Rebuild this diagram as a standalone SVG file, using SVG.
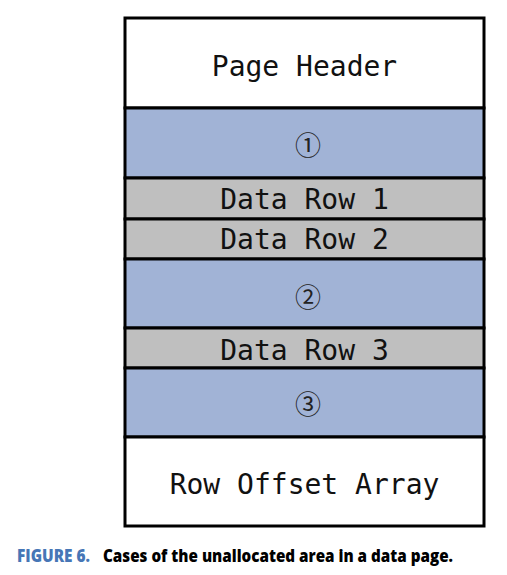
<svg xmlns="http://www.w3.org/2000/svg" width="507" height="575" viewBox="0 0 507 575">
<style>
.band{stroke:#000;stroke-width:3}
.free{fill:#A1B3D6}
.row{fill:#BFBFBF}
.white{fill:#FFFFFF}
.mono{font-family:"DejaVu Sans Mono","Liberation Mono",monospace;font-size:28px;fill:#111;text-anchor:middle}
.circ{font-family:"Noto Sans CJK SC","DejaVu Sans",sans-serif;font-size:26px;fill:#222;text-anchor:middle}
.cap{font-family:"Open Sans","Liberation Sans",sans-serif;font-weight:800;font-size:17px}
</style>
<rect width="507" height="575" fill="#fff"/>
<g id="page-header"><rect class="band white" x="125" y="18" width="359" height="90"/><text class="mono" x="304.5" y="76">Page Header</text></g>
<g id="free-1"><rect class="band free" x="125" y="108" width="359" height="70"/><text class="circ" x="308" y="155">①</text></g>
<g id="data-row-1"><rect class="band row" x="125" y="178" width="359" height="41"/><text class="mono" x="304.5" y="209">Data Row 1</text></g>
<g id="data-row-2"><rect class="band row" x="125" y="219" width="359" height="40"/><text class="mono" x="304.5" y="249">Data Row 2</text></g>
<g id="free-2"><rect class="band free" x="125" y="259" width="359" height="69"/><text class="circ" x="308" y="307">②</text></g>
<g id="data-row-3"><rect class="band row" x="125" y="328" width="359" height="40"/><text class="mono" x="304.5" y="360">Data Row 3</text></g>
<g id="free-3"><rect class="band free" x="125" y="368" width="359" height="69"/><text class="circ" x="308" y="414">③</text></g>
<g id="row-offset-array"><rect class="band white" x="125" y="437" width="359" height="89"/><text class="mono" x="304.5" y="494">Row Offset Array</text></g>
<g id="connectors"/>
<g id="caption"><text class="cap" x="17" y="562" fill="#4676B6" textLength="73" lengthAdjust="spacingAndGlyphs">FIGURE 6.</text><text class="cap" x="103" y="562" fill="#000" textLength="350" lengthAdjust="spacingAndGlyphs">Cases of the unallocated area in a data page.</text></g>
</svg>
